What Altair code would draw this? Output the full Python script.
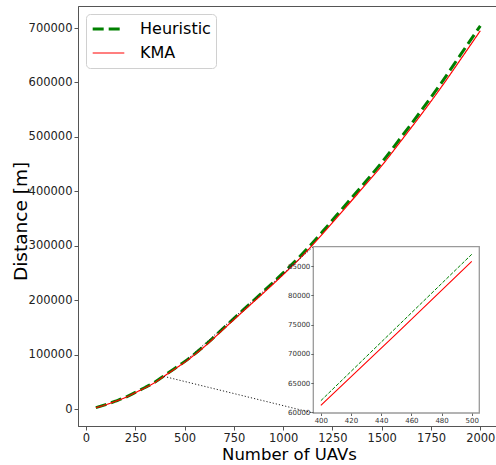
import altair as alt
import pandas as pd

# ---- data ----
n_uavs = [50, 100, 150, 200, 250, 300, 350, 400, 450, 500,
          600, 700, 800, 900, 1000, 1100, 1200, 1300, 1400, 1500,
          1600, 1700, 1800, 1900, 2000]
heuristic = [2500, 8000, 14500, 21500, 30500, 39500, 49500, 62000, 74500, 87000,
             116000, 149500, 183000, 216000, 250000, 286000, 326000, 368000, 410000, 453000,
             500000, 548000, 598000, 651000, 704000]
kma = [2300, 7800, 14200, 21100, 30000, 38900, 48800, 61200, 73400, 85800,
       114400, 147500, 180600, 213200, 246800, 282300, 321800, 363200, 404700, 447000,
       493600, 541000, 590300, 642300, 695000]
series_names = ["Heuristic", "KMA"]
series_colors = ["#008000", "#ff0000"]

x_ticks = list(range(0, 2001, 250))
y_ticks = list(range(0, 700001, 100000))
inset_x_ticks = list(range(400, 501, 20))
inset_y_ticks = list(range(60000, 85001, 5000))

# ---- layout ----
PAD_L, PAD_T, PAD_R, PAD_B = 78, 6, 0, 39
W, H = 418, 420
X_DOM = [-40.6, 2079.6]
Y_DOM = [-31230, 740420]
INSET_X = [395, 505]
INSET_Y = [59900, 88300]
IX0, IX1, IY0, IY1 = 235.3, 401.3, 240.7, 407.0  # inset box inside plot area (px)

FONT = "DejaVu Sans"

rows = []
for n, h, k in zip(n_uavs, heuristic, kma):
    rows.append({"n": n, "series": "Heuristic", "dist": h})
    rows.append({"n": n, "series": "KMA", "dist": k})
df = pd.DataFrame(rows)
inset_df = df[(df.n >= INSET_X[0]) & (df.n <= INSET_X[1])]


def vx(px):
    return X_DOM[0] + px / W * (X_DOM[1] - X_DOM[0])


def vy(py):
    return Y_DOM[1] - py / H * (Y_DOM[1] - Y_DOM[0])


conn_df = pd.DataFrame([
    {"cx": INSET_X[0], "cy": INSET_Y[0], "cx2": vx(IX0), "cy2": vy(IY1)},
    {"cx": INSET_X[1], "cy": INSET_Y[1], "cx2": vx(IX0), "cy2": vy(IY0)},
])

xs = alt.Scale(domain=X_DOM, nice=False, zero=False)
ys = alt.Scale(domain=Y_DOM, nice=False, zero=False)

leg = alt.Legend(
    orient="none", legendX=8, legendY=8, title=None,
    symbolType="stroke", symbolSize=1000, labelFontSize=16, labelFont=FONT,
    labelColor="#000", fillColor="white", strokeColor="#d0d0d0", cornerRadius=4,
    padding=5, rowPadding=4, labelOffset=14, clipHeight=20,
)

main_lines = alt.Chart(df).mark_line(interpolate="monotone").encode(
    x=alt.X("n:Q", scale=xs, title="Number of UAVs",
            axis=alt.Axis(values=x_ticks, format="d", labelFontSize=11.5, labelColor="#222",
                          tickSize=4, tickColor="#555", domainColor="#555", labelPadding=2,
                          grid=False, labelFlush=False, titleFontSize=16.5,
                          titleFontWeight="normal", titleColor="#000", titleX=211, titleY=33,
                          titleAlign="center", titleBaseline="alphabetic")),
    y=alt.Y("dist:Q", scale=ys, title="Distance [m]",
            axis=alt.Axis(values=y_ticks, format="d", labelFontSize=11.5, labelColor="#222",
                          tickSize=4, tickColor="#555", domainColor="#555", labelPadding=2,
                          grid=False, labelFlush=False, titleFontSize=18.5,
                          titleFontWeight="normal", titleColor="#000", titleX=-52, titleY=215,
                          titleAngle=270, titleAlign="center", titleBaseline="alphabetic")),
    color=alt.Color("series:N", scale=alt.Scale(domain=series_names, range=series_colors), legend=leg),
    strokeDash=alt.StrokeDash("series:N", scale=alt.Scale(domain=series_names, range=[[11, 5], [1, 0]]), legend=leg),
    strokeWidth=alt.StrokeWidth("series:N", scale=alt.Scale(domain=series_names, range=[3, 1.2]), legend=leg),
    order=alt.Order("n:Q"),
)

connectors = alt.Chart(conn_df).mark_rule(color="#222", strokeWidth=1, strokeDash=[1.2, 2]).encode(
    x=alt.X("cx:Q", scale=xs), y=alt.Y("cy:Q", scale=ys),
    x2="cx2:Q", y2="cy2:Q",
)

main_layer = alt.layer(main_lines, connectors)

ixs = alt.Scale(domain=INSET_X, range=[IX0, IX1], nice=False, zero=False)
iys = alt.Scale(domain=INSET_Y, range=[IY1, IY0], nice=False, zero=False)

box_df = pd.DataFrame([{"x0": INSET_X[0], "x1": INSET_X[1], "y0": INSET_Y[0], "y1": INSET_Y[1]}])

inset_box = alt.Chart(box_df).mark_rect(fill="white", stroke="#9a9a9a", strokeWidth=1.3).encode(
    x=alt.X("x0:Q", scale=ixs, title=None,
            axis=alt.Axis(orient="bottom", offset=-(H - IY1), values=inset_x_ticks, format="d",
                          labelFontSize=7, labelColor="#333", tickSize=2.5, tickColor="#666",
                          labelPadding=1, domain=False, grid=False, labelFlush=False, zindex=1)),
    x2="x1:Q",
    y=alt.Y("y0:Q", scale=iys, title=None,
            axis=alt.Axis(orient="left", offset=-IX0, values=inset_y_ticks, format="d",
                          labelFontSize=7, labelColor="#333", tickSize=2.5, tickColor="#666",
                          labelPadding=1, domain=False, grid=False, labelFlush=False, zindex=1)),
    y2="y1:Q",
)

inset_h = alt.Chart(inset_df[inset_df.series == "Heuristic"]).mark_line(
    color=series_colors[0], strokeWidth=1, strokeDash=[3.7, 1.6]).encode(
    x=alt.X("n:Q", scale=ixs), y=alt.Y("dist:Q", scale=iys))
inset_k = alt.Chart(inset_df[inset_df.series == "KMA"]).mark_line(
    color=series_colors[1], strokeWidth=1.1).encode(
    x=alt.X("n:Q", scale=ixs), y=alt.Y("dist:Q", scale=iys))

inset_layer = alt.layer(inset_box, inset_h, inset_k)

chart = alt.layer(main_layer, inset_layer).resolve_scale(
    x="independent", y="independent"
).properties(
    width=W, height=H,
    padding={"left": PAD_L, "top": PAD_T, "right": PAD_R, "bottom": PAD_B},
    autosize=alt.AutoSizeParams(type="none"),
).configure(font=FONT).configure_view(stroke="#555", strokeWidth=1)

chart.save("out.html", embed_options={"renderer": "svg", "actions": False})
